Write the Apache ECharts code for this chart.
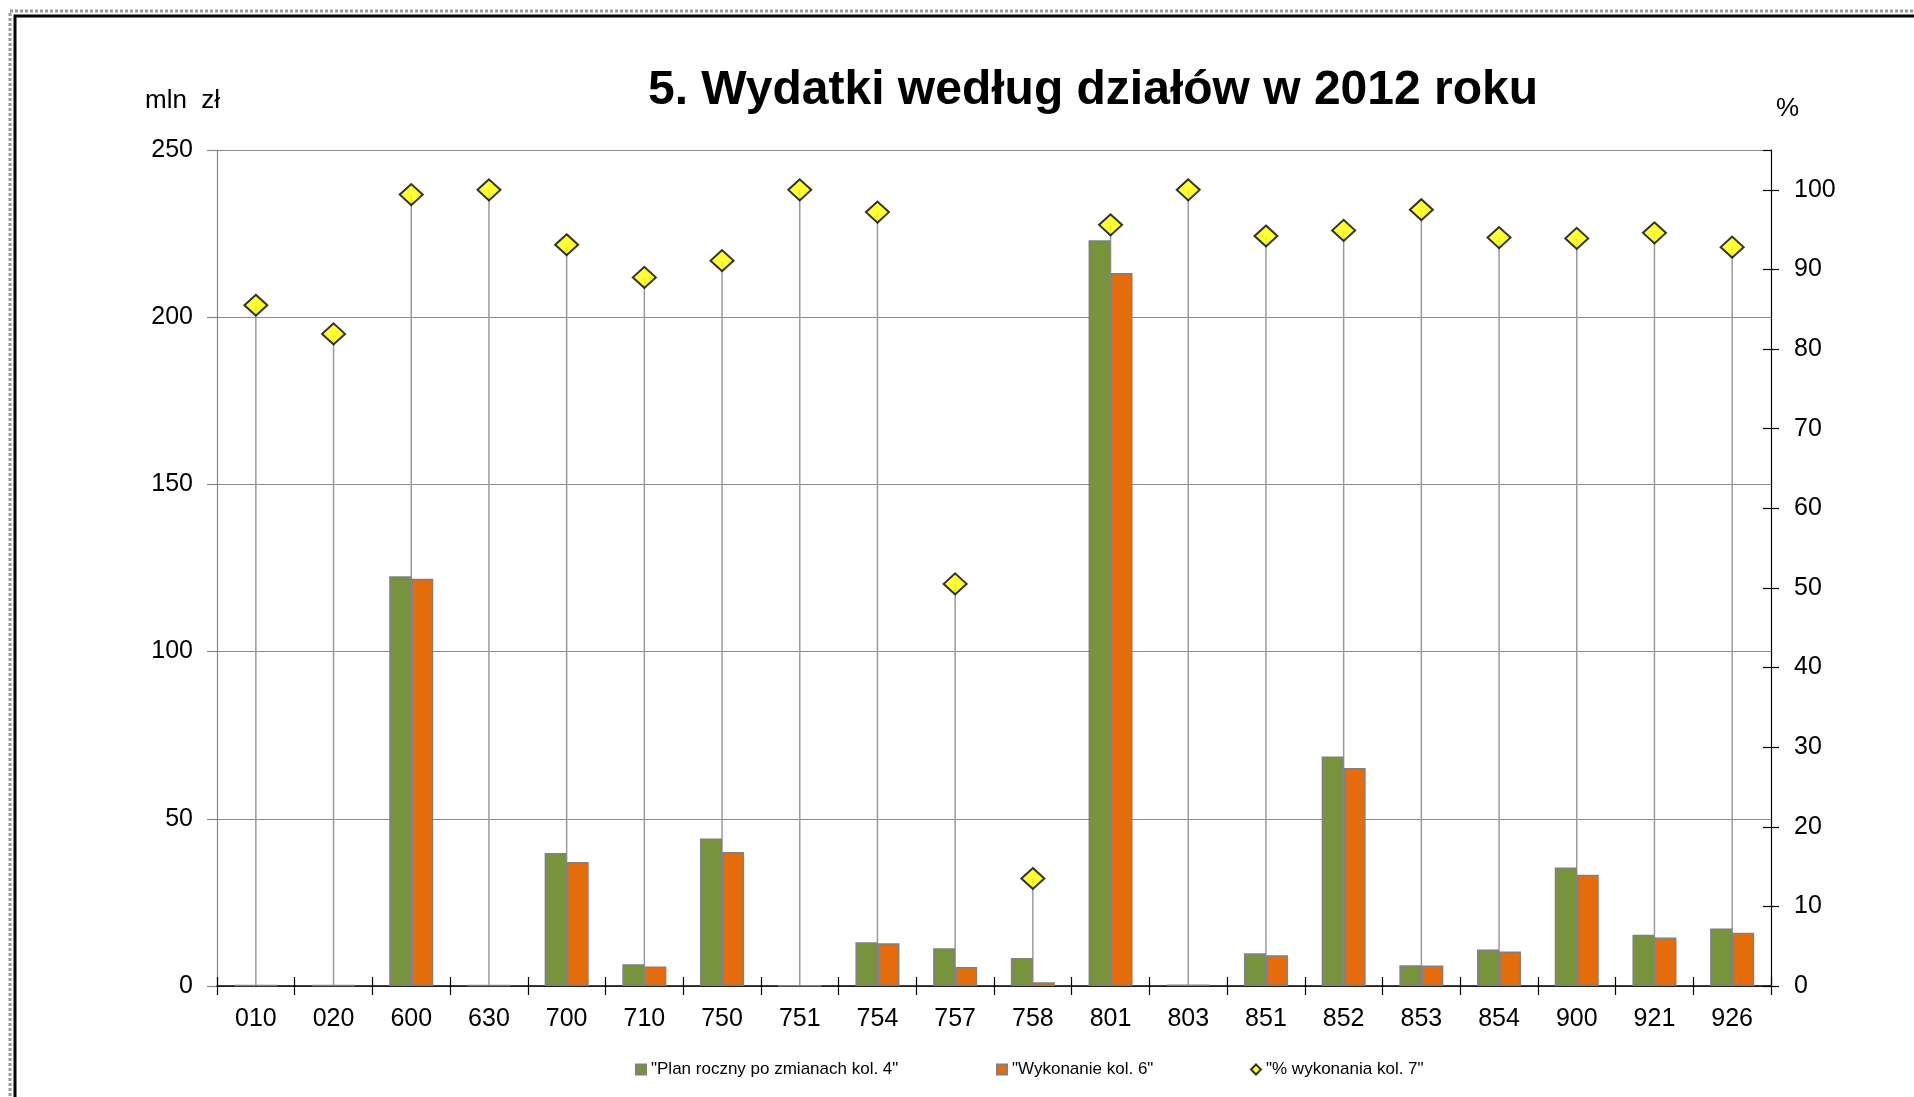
<!DOCTYPE html>
<html><head><meta charset="utf-8">
<script src="https://cdn.jsdelivr.net/npm/echarts@6/dist/echarts.min.js"></script>
<style>html,body{margin:0;padding:0;background:#fff}#c{width:1914px;height:1097px}</style>
</head><body><div id="c"></div><script>
const categories = ['010','020','600','630','700','710','750','751','754','757','758','801','803','851','852','853','854','900','921','926'];
const planValues = [0.35,0.3,122.5,0.3,39.8,6.5,44.1,0.2,13.1,11.3,8.4,223.0,0.4,9.8,68.6,6.2,10.9,35.4,15.3,17.2];
const wykonanieValues = [0.3,0.25,121.8,0.3,37.1,5.8,40.1,0.2,12.8,5.7,1.1,213.2,0.4,9.2,65.2,6.1,10.3,33.3,14.5,15.9];
const pctValues = [85.5,81.9,99.4,100,93.1,89.0,91.1,100,97.2,50.5,13.5,95.6,100,94.2,94.9,97.5,94.0,93.9,94.6,92.8];
const leftTicks = [0,50,100,150,200,250];
const rightTicks = [0,10,20,30,40,50,60,70,80,90,100];
const rightAxisMax = 105;
const seriesNames = ['"Plan roczny po zmianach kol. 4"','"Wykonanie kol. 6"','"% wykonania kol. 7"'];
const titleText = '5. Wydatki według działów w 2012 roku';
const leftUnit = 'mln  zł';
const rightUnit = '%';

const FONT = 'Liberation Sans, Arial, Helvetica, sans-serif';
const GRID = {left:217, right:143, top:150, bottom:111};
const plotW = 1914 - GRID.left - GRID.right;

const chart = echarts.init(document.getElementById('c'), null, {renderer:'canvas'});
const rightCommon = {
  type:'value', min:rightTicks[0], max:rightAxisMax, interval:rightTicks[1]-rightTicks[0],
  splitLine:{show:false}
};
const legendText = {fontFamily:FONT, fontSize:17, color:'#000'};
chart.setOption({
  animation:false,
  backgroundColor:'#fff',
  textStyle:{fontFamily:FONT},
  title:[
    {text:titleText, left:648, top:67, padding:0, textStyle:{fontFamily:FONT, fontSize:48, fontWeight:'bold', color:'#000'}},
    {text:leftUnit, left:145, top:88, padding:0, textStyle:{fontFamily:FONT, fontSize:26, fontWeight:'normal', color:'#000'}},
    {text:rightUnit, left:1776, top:96, padding:0, textStyle:{fontFamily:FONT, fontSize:26, fontWeight:'normal', color:'#000'}}
  ],
  legend:[
    {data:[seriesNames[0]], left:635, top:1061, padding:0, itemWidth:10, itemHeight:10, icon:'rect', textStyle:legendText},
    {data:[seriesNames[1]], left:996, top:1061, padding:0, itemWidth:10, itemHeight:10, icon:'rect', textStyle:legendText},
    {data:[seriesNames[2]], left:1250, top:1061, padding:0, itemWidth:10, itemHeight:10, icon:'diamond', textStyle:legendText}
  ],
  grid:{left:GRID.left, right:GRID.right, top:GRID.top, bottom:GRID.bottom, containLabel:false, outerBoundsMode:'none'},
  xAxis:[
    {type:'category', data:categories, position:'bottom', boundaryGap:true,
     axisLine:{show:true, onZero:false, lineStyle:{color:'#000', width:1.5}},
     axisTick:{show:true, inside:false, length:9, interval:0, lineStyle:{color:'#000', width:1.2}},
     axisLabel:{fontFamily:FONT, fontSize:25, color:'#000', margin:21, interval:0},
     splitLine:{show:false}},
    {type:'category', data:categories, position:'top', boundaryGap:true,
     axisLine:{show:false, onZero:true, onZeroAxisIndex:1},
     axisTick:{show:true, inside:false, length:9, interval:0, lineStyle:{color:'#000', width:1.2}},
     axisLabel:{show:false}, splitLine:{show:false}}
  ],
  yAxis:[
    {type:'value', position:'left', min:leftTicks[0], max:leftTicks[leftTicks.length-1], interval:leftTicks[1]-leftTicks[0],
     axisLine:{show:true, lineStyle:{color:'#868686', width:1.2}},
     axisTick:{show:true, inside:false, length:10, lineStyle:{color:'#868686', width:1.2}},
     axisLabel:{fontFamily:FONT, fontSize:25, color:'#000', margin:24},
     splitLine:{show:true, lineStyle:{color:'#8a8a8a', width:1.2}}},
    Object.assign({}, rightCommon, {position:'right',
     axisLine:{show:true, lineStyle:{color:'#000', width:1.2}},
     axisTick:{show:true, inside:false, length:8, lineStyle:{color:'#000', width:1.2}},
     axisLabel:{fontFamily:FONT, fontSize:25, color:'#000', margin:23, showMaxLabel:false}}),
    Object.assign({}, rightCommon, {position:'left', offset:-plotW,
     axisLine:{show:false},
     axisTick:{show:true, inside:false, length:8, lineStyle:{color:'#000', width:1.2}},
     axisLabel:{show:false}})
  ],
  series:[
    {type:'custom', name:'dropLines', xAxisIndex:0, yAxisIndex:1, silent:true, z:1,
     data:pctValues.map((v,i)=>[i,v]), encode:{x:0,y:1},
     renderItem:function(params, api){
       const top = api.coord([api.value(0), api.value(1)]);
       const bot = api.coord([api.value(0), 0]);
       return {type:'line', shape:{x1:top[0], y1:top[1], x2:bot[0], y2:bot[1]}, style:{stroke:'#9a9a9a', lineWidth:1.5}};
     }},
    {type:'bar', name:seriesNames[0], xAxisIndex:0, yAxisIndex:0, data:planValues, barWidth:22, barGap:'0%', z:3,
     itemStyle:{color:'#77933C', borderColor:'#808080', borderWidth:1.5}},
    {type:'bar', name:seriesNames[1], xAxisIndex:0, yAxisIndex:0, data:wykonanieValues, barWidth:22, barGap:'0%', z:3,
     itemStyle:{color:'#E46C0A', borderColor:'#808080', borderWidth:1.5}},
    {type:'scatter', name:seriesNames[2], xAxisIndex:0, yAxisIndex:1, data:pctValues, symbol:'diamond', symbolSize:[23,21], z:5,
     itemStyle:{color:'#FFFF00', borderColor:'#000', borderWidth:2}}
  ],
  graphic:[
    {type:'rect', z:100, silent:true, shape:{x:10, y:11, width:1950, height:1150}, style:{fill:'none', stroke:'#9a9a9a', lineWidth:3, lineDash:[3,2]}},
    {type:'rect', z:100, silent:true, shape:{x:15, y:16, width:1950, height:1150}, style:{fill:'none', stroke:'#000', lineWidth:3}}
  ]
});
</script></body></html>
